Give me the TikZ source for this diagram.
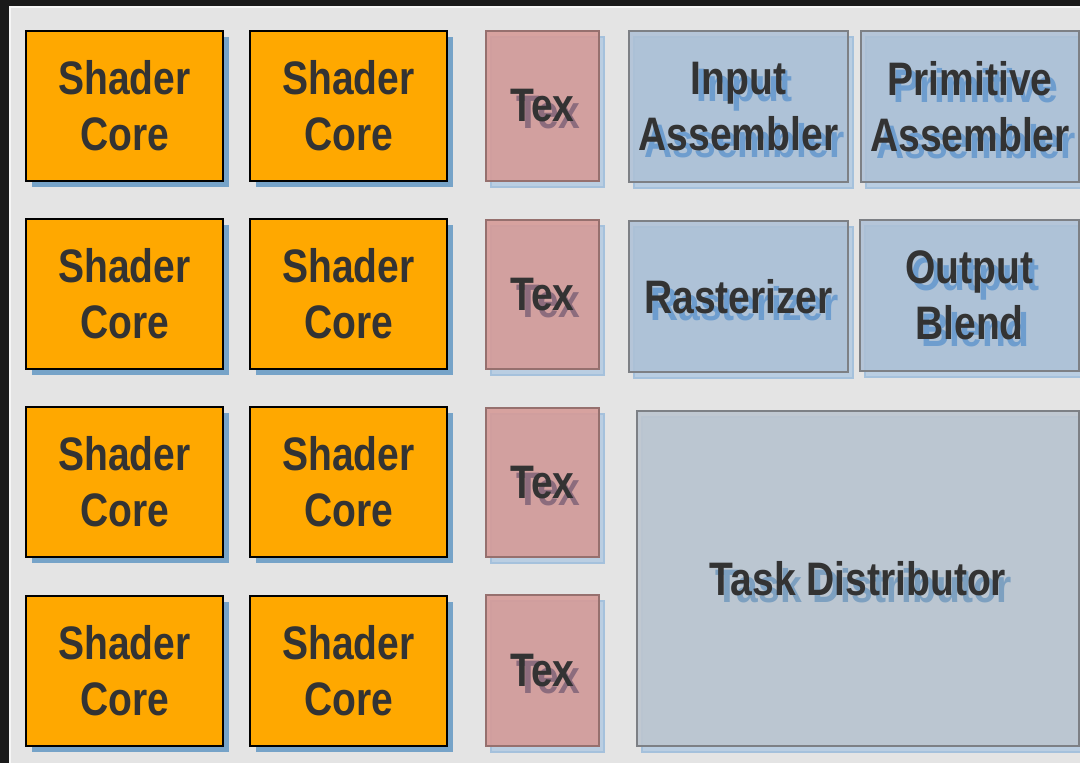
\documentclass[tikz,border=0pt]{standalone}
\usepackage{fontspec}
\usetikzlibrary{shadows}
\newfontfamily\labfont{Liberation Sans}[FakeStretch=0.83]
\definecolor{darkbg}{RGB}{26,26,26}
\definecolor{panel}{RGB}{228,228,228}
\definecolor{panelhi}{RGB}{246,246,246}
\definecolor{coreorange}{RGB}{255,168,0}
\definecolor{coreshadow}{RGB}{118,163,200}
\definecolor{txt}{RGB}{51,51,51}
\definecolor{texfill}{RGB}{214,154,150}
\definecolor{texdraw}{RGB}{150,112,110}
\definecolor{lightsh}{RGB}{186,206,226}
\definecolor{lightshdraw}{RGB}{165,193,220}
\definecolor{bluefill}{RGB}{173,192,214}
\definecolor{bluedraw}{RGB}{125,128,133}
\definecolor{taskfill}{RGB}{188,197,207}
\definecolor{texboxsh}{RGB}{140,108,125}
\definecolor{blueboxsh}{RGB}{110,157,206}
\definecolor{taskboxsh}{RGB}{125,160,192}
\tikzset{
  lab/.style={font=\labfont\bfseries\fontsize{47}{56}\selectfont, text=txt, align=center, inner sep=0pt},
  corebox/.style={draw=black, line width=2pt, fill=coreorange, inner sep=0pt,
    drop shadow={shadow xshift=6pt, shadow yshift=-6pt, fill=coreshadow, opacity=1}},
  lightshadow/.style={drop shadow={shadow xshift=5pt, shadow yshift=-6pt, fill=lightsh, draw=lightshdraw, line width=1.5pt, opacity=1}},
  texbox/.style={lightshadow, draw=texdraw, line width=2pt, fill=texfill, fill opacity=0.88, inner sep=0pt},
  bluebox/.style={lightshadow, draw=bluedraw, line width=2pt, fill=bluefill, fill opacity=0.85, inner sep=0pt},
  taskbox/.style={lightshadow, draw=bluedraw, line width=2pt, fill=taskfill, fill opacity=0.88, inner sep=0pt},
}
% #1 style, #2 name, #3 cx, #4 cy, #5 w, #6 h, #7 text
\newcommand\labbox[7]{%
  \node[#1, minimum width=#5pt, minimum height=#6pt] (#2) at (#3,#4) {};
  \node[lab, text=#1sh] (#2-sh) at ([xshift=6pt,yshift=-7pt]#2.center) {#7};
  \node[lab] (#2-t) at (#2.center) {#7};
}
\newcommand\coreat[3]{%
  \node[corebox, lab, minimum width=197pt, minimum height=150pt] (#1) at (#2,#3) {Shader\\Core};
}
\begin{document}
\begin{tikzpicture}[x=1pt,y=-1pt]
\useasboundingbox (0,0) rectangle (1080,763);
\fill[darkbg] (0,0) rectangle (1080,763);
\fill[panel] (9,6) rectangle (1080,763);
\fill[panelhi] (9,6) rectangle (1080,7.5);
\fill[panelhi] (9,6) rectangle (10.5,763);
% shader cores
\coreat{c11}{124.5}{106}
\coreat{c12}{348.5}{106}
\coreat{c21}{124.5}{294}
\coreat{c22}{348.5}{294}
\coreat{c31}{124.5}{482}
\coreat{c32}{348.5}{482}
\coreat{c41}{124.5}{671}
\coreat{c42}{348.5}{671}
% texture units
\labbox{texbox}{t1}{542.5}{106}{113}{150}{Tex}
\labbox{texbox}{t2}{542.5}{294.5}{113}{149}{Tex}
\labbox{texbox}{t3}{542.5}{482.5}{113}{149}{Tex}
\labbox{texbox}{t4}{542.5}{670.5}{113}{151}{Tex}
% fixed function
\labbox{bluebox}{ia}{738.5}{106.5}{219}{151}{Input\\Assembler}
\labbox{bluebox}{pa}{970}{106.5}{218}{151}{Primitive\\Assembler}
\labbox{bluebox}{ra}{738.5}{296.5}{219}{151}{Rasterizer}
\labbox{bluebox}{ob}{969.5}{295.5}{219}{151}{Output\\Blend}
\labbox{taskbox}{td}{858}{578.5}{442}{335}{Task Distributor}
\end{tikzpicture}
\end{document}
